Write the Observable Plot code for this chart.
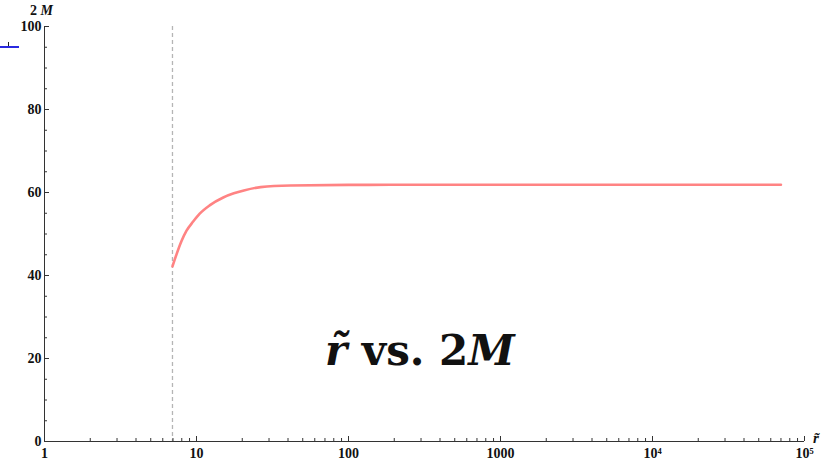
<!DOCTYPE html>
<html>
<head>
<meta charset="utf-8">
<script src="https://cdn.jsdelivr.net/npm/d3@7"></script>
<script src="https://cdn.jsdelivr.net/npm/@observablehq/plot@0.6"></script>
<style>
  html, body { margin: 0; padding: 0; background: #fff; }
  #wrap { position: relative; width: 828px; height: 463px; }
  .ov { position: absolute; font-family: "Liberation Serif", "DejaVu Serif", serif; font-weight: bold; color: #111; white-space: nowrap; line-height: 1; }
</style>
</head>
<body>
<div id="wrap"></div>
<script>
// Curve: r-tilde vs 2M
const rTilde = [6.95, 7.39, 7.97, 8.6, 9.51, 10.5, 12.2, 15.0, 17.6, 20.5, 26.4, 41.5, 100, 189, 1000, 10000, 70000];
const twoM   = [42.2, 45.1, 48.3, 50.8, 53.0, 54.9, 56.9, 58.8, 59.8, 60.5, 61.3, 61.7, 61.83, 61.85, 61.85, 61.85, 61.85];
// Vertical reference line
const cutoff = [6.95];
// Axis ticks
const xMajor = [1, 10, 100, 1000, 10000, 100000];
const xMajorLabels = ["1", "10", "100", "1000", "10\u2074", "10\u2075"];
const xMinor = [];
for (const d of [1, 10, 100, 1000, 10000]) for (let m = 2; m <= 9; m++) xMinor.push(d * m);
const yMajor = [0, 20, 40, 60, 80, 100];
const yMinor = [5, 10, 15, 25, 30, 35, 45, 50, 55, 65, 70, 75, 85, 90, 95];

const data = rTilde.map((x, i) => ({x, y: twoM[i]}));
const labelOf = new Map(xMajor.map((v, i) => [v, xMajorLabels[i]]));

const axisColor = "#333";
const font = {fontFamily: "Liberation Serif", fontWeight: "bold", fontSize: 14};
const chart = Plot.plot({
  width: 828,
  height: 463,
  marginLeft: 44,
  marginRight: 24,
  marginTop: 26,
  marginBottom: 22,
  style: {background: "#fff", fontFamily: "Liberation Serif", fontWeight: "bold", fontSize: "14px"},
  x: {type: "log", domain: [1, 100000]},
  y: {domain: [0, 100]},
  marks: [
    Plot.ruleX(cutoff, {stroke: "#b5b5b5", strokeWidth: 1.3, strokeDasharray: "4,3"}),
    Plot.line(data, {x: "x", y: "y", stroke: "#ff8383", strokeWidth: 2.6, curve: "monotone-x"}),
    Plot.axisX(xMajor, {tickSize: -5, tickFormat: d => labelOf.get(d), stroke: axisColor, tickPadding: 12, label: null, fill: "#111", ...font}),
    Plot.axisX(xMinor, {tickSize: -3, tickFormat: () => "", stroke: axisColor, label: null}),
    Plot.axisY(yMajor, {tickSize: -5, tickFormat: d => String(d), stroke: axisColor, tickPadding: 8, label: null, fill: "#111", ...font}),
    Plot.axisY(yMinor, {tickSize: -3, tickFormat: () => "", stroke: axisColor, label: null}),
    Plot.ruleY([0], {stroke: axisColor, strokeWidth: 1}),
    Plot.ruleX([1], {stroke: axisColor, strokeWidth: 1})
  ]
});
const wrap = document.getElementById("wrap");
wrap.appendChild(chart);

function ov(html, left, top, size, extra) {
  const d = document.createElement("div");
  d.className = "ov";
  d.innerHTML = html;
  d.style.left = left + "px";
  d.style.top = top + "px";
  d.style.fontSize = size + "px";
  if (extra) Object.assign(d.style, extra);
  wrap.appendChild(d);
  return d;
}
// axis labels
ov('2 <i>M</i>', 30, 4, 14);
ov('<i>r&#x0303;</i>', 813, 431, 15);
// big annotation
ov('<i>r&#x0303;</i>&nbsp;vs.&nbsp;2<i>M</i>', 325, 330, 42, {fontFamily: "DejaVu Serif"});
// stray legend fragment at the top-left
const blue = document.createElement("div");
Object.assign(blue.style, {position: "absolute", left: "0px", top: "46px", width: "19px", height: "2px", background: "#2a2ae0"});
wrap.appendChild(blue);
const tk = document.createElement("div");
Object.assign(tk.style, {position: "absolute", left: "8px", top: "42px", width: "1px", height: "4px", background: "#222"});
wrap.appendChild(tk);
</script>
</body>
</html>
